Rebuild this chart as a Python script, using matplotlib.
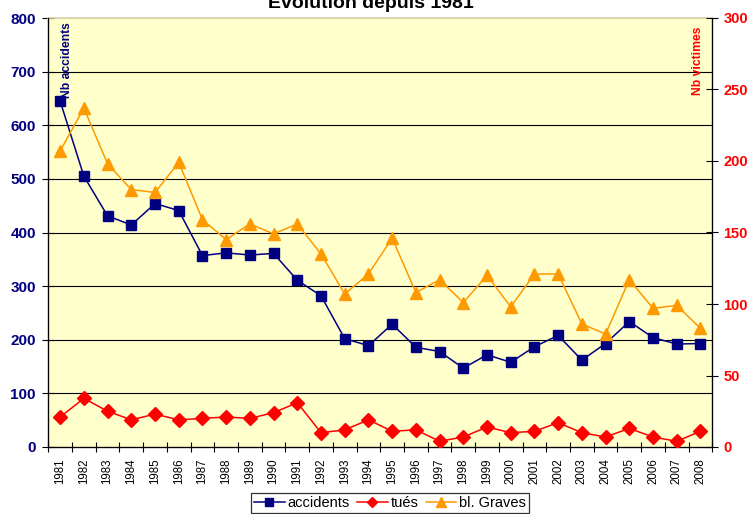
import matplotlib.pyplot as plt
import numpy as np

plt.rcParams['font.family'] = ['Liberation Sans', 'DejaVu Sans']

# data
years = [str(y) for y in range(1981, 2009)]
accidents = [645, 505, 431, 414, 454, 441, 357, 362, 358, 361, 311, 282, 202, 189,
             229, 186, 178, 147, 172, 158, 187, 208, 162, 193, 234, 204, 192, 193]
tues = [21, 34, 25, 19, 23, 19, 20, 21, 20, 24, 31, 10, 12, 19,
        11, 12, 4, 7, 14, 10, 11, 17, 10, 7, 13, 7, 4, 11]
graves = [207, 237, 198, 180, 178, 199, 159, 145, 156, 149, 156, 135, 107, 121,
          146, 108, 117, 101, 120, 98, 121, 121, 86, 79, 117, 97, 99, 83]

navy = '#000080'
red = '#ff0000'
orange = '#ff9900'

fig = plt.figure(figsize=(7.5, 5.14), dpi=100)
ax = fig.add_axes([48.3/750, 1-447/514, (712.3-48.3)/750, (447-18)/514])
ax.set_facecolor('#ffffcc')
x = np.arange(len(years))

l1, = ax.plot(x, accidents, color=navy, lw=1.1, marker='s', ms=7.5, label='accidents', zorder=3)
ax.set_xlim(-0.5, len(years) - 0.5)
ax.set_ylim(0, 800)
ax.set_yticks(range(0, 801, 100))
ax.set_xticks(x)
ax.set_xticklabels(years, rotation=90, fontsize=8.3)
ax.set_xticks(np.arange(-0.5, len(years), 1), minor=True)
ax.tick_params(axis='x', which='major', length=0, pad=8)
ax.tick_params(axis='x', which='minor', direction='inout', length=7, width=0.8)
ax.tick_params(axis='y', direction='inout', length=8, width=0.8, pad=5,
               labelsize=11, labelcolor=navy)
for lab in ax.get_yticklabels():
    lab.set_fontweight('bold')
for v in range(100, 800, 100):
    ax.axhline(v, color='black', lw=0.8, zorder=1)
ax.spines['top'].set_color('#d4d0a4')
ax.spines['top'].set_linewidth(1.2)
for s in ['left', 'bottom', 'right']:
    ax.spines[s].set_linewidth(0.9)

ax2 = ax.twinx()
l2, = ax2.plot(x, tues, color=red, lw=1.1, marker='D', ms=7, label='tués', zorder=3)
l3, = ax2.plot(x, graves, color=orange, lw=1.1, marker='^', ms=8.5, label='bl. Graves', zorder=3)
ax2.set_ylim(0, 300)
ax2.set_yticks(range(0, 301, 50))
ax2.tick_params(axis='y', direction='inout', length=8, width=0.8, pad=4,
                labelsize=10.5, labelcolor=red)
for lab in ax2.get_yticklabels():
    lab.set_fontweight('bold')
ax2.spines['top'].set_visible(False)

ax.text(0.028, 0.99, 'Nb accidents', rotation=90, va='top', ha='center',
        transform=ax.transAxes, color=navy, fontsize=8.7, fontweight='bold')
ax2.text(0.978, 0.981, 'Nb victimes', rotation=90, va='top', ha='center',
         transform=ax2.transAxes, color=red, fontsize=8.7, fontweight='bold')

fig.text(0.495, 1 - 8/514, 'Evolution depuis 1981', ha='center', va='baseline',
         fontsize=14, fontweight='bold')

leg = fig.legend(handles=[l1, l2, l3], loc='upper center', bbox_to_anchor=(0.52, 1 - 493/514),
                 ncol=3, fontsize=10.5, frameon=True, fancybox=False, borderpad=0.2,
                 handlelength=2.1, handletextpad=0.2, columnspacing=0.5, markerscale=0.8,
                 borderaxespad=0)
leg.get_frame().set_edgecolor('black')
leg.get_frame().set_linewidth(0.9)

fig.savefig('out.png', dpi=100)
